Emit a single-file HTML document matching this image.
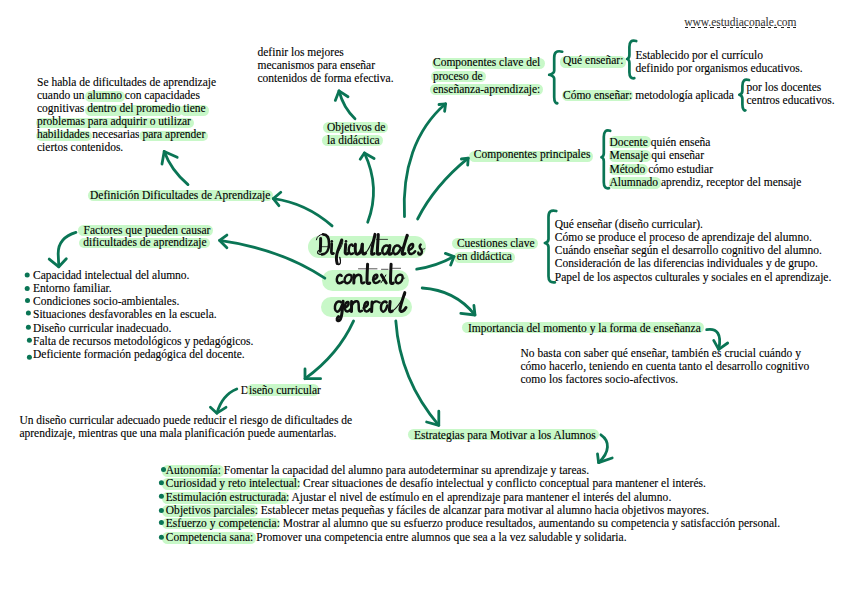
<!DOCTYPE html>
<html><head><meta charset="utf-8"><style>
html,body{margin:0;padding:0;background:#fff;}
body{width:848px;height:599px;position:relative;overflow:hidden;font-family:"Liberation Serif",serif;font-size:11.5px;color:#000;-webkit-text-stroke:0.12px #000;}
.l{position:absolute;white-space:nowrap;line-height:20px;}
.h{background:#c8f8c8;border-radius:5.5px;display:inline-block;line-height:4px;}
.thl{position:absolute;background:#c8f8c8;border-radius:11px;}
.t{position:absolute;white-space:nowrap;font-family:"Liberation Serif",serif;font-style:italic;font-weight:bold;color:#111;line-height:30px;}
svg{position:absolute;left:0;top:0;}
</style></head><body>

<div class="thl" style="left:307.5px;top:236px;width:118.5px;height:22px"></div>
<div class="thl" style="left:322px;top:269.5px;width:86.5px;height:21.0px"></div>
<div class="thl" style="left:320.5px;top:296.5px;width:91.0px;height:20.5px"></div>
<div style="position:absolute;left:684.5px;top:26.7px;width:112.5px;height:1.5px;background:repeating-linear-gradient(90deg,#222 0 3.2px,transparent 3.2px 6.37px)"></div>
<div class="l" style="left:684.2px;top:12px;color:#3a3a3a;-webkit-text-stroke:0.1px #3a3a3a;">www.estudiaconale.com</div>
<div class="l" style="left:257.5px;top:42px;">definir los mejores</div>
<div class="l" style="left:257.5px;top:55px;">mecanismos para enseñar</div>
<div class="l" style="left:257.5px;top:68px;">contenidos de forma efectiva.</div>
<div class="l" style="left:37px;top:72px;">Se habla de dificultades de aprendizaje</div>
<div class="l" style="left:37px;top:85px;">cuando un <span class="h" style="padding:2.12px 3.0px 4.99px 2.5px;margin:0 -3.0px 0 -2.5px">alumno</span> con capacidades</div>
<div class="l" style="left:37px;top:98px;">cognitivas <span class="h" style="padding:0.92px 3.0px 5.79px 2.5px;margin:0 -3.0px 0 -2.5px">dentro del promedio</span> <span class="h" style="padding:0.92px 3.0px 5.79px 3.0px;margin:0 -3.0px 0 -3.0px">tiene</span></div>
<div class="l" style="left:37px;top:111px;"><span class="h" style="padding:1.42px 3.0px 5.49px 1px;margin:0 -3.0px 0 -1px">problemas para adquirir o utilizar</span></div>
<div class="l" style="left:37px;top:124px;"><span class="h" style="padding:1.42px 3.0px 5.49px 1px;margin:0 -3.0px 0 -1px">habilidades</span> necesarias <span class="h" style="padding:1.42px 3.0px 5.49px 3.0px;margin:0 -3.0px 0 -3.0px">para aprender</span></div>
<div class="l" style="left:37px;top:137px;">ciertos contenidos.</div>
<div class="l" style="left:327px;top:117px;"><span class="h" style="padding:3.31px 3.0px 4.08px 4.5px;margin:0 -3.0px 0 -4.5px">Objetivos de</span></div>
<div class="l" style="left:327px;top:130px;"><span class="h" style="padding:3.31px 3.0px 4.08px 4.8px;margin:0 -3.0px 0 -4.8px">la didáctica</span></div>
<div class="l" style="left:433px;top:52px;"><span class="h" style="padding:2.21px 4.3px 4.99px 0.8px;margin:0 -4.3px 0 -0.8px">Componentes clave del</span></div>
<div class="l" style="left:433px;top:66px;"><span class="h" style="padding:2.52px 3.0px 4.49px 2px;margin:0 -3.0px 0 -2px">proceso de</span></div>
<div class="l" style="left:433px;top:79px;"><span class="h" style="padding:3.31px 3.0px 3.88px 3.4px;margin:0 -3.0px 0 -3.4px">enseñanza-aprendizaje:</span></div>
<div class="l" style="left:563px;top:50px;"><span class="h" style="padding:1.71px 3.0px 5.58px 3px;margin:0 -3.0px 0 -3px">Qué enseñar:</span></div>
<div class="l" style="left:563px;top:85px;"><span class="h" style="padding:2.81px 0.8px 4.38px 1.5px;margin:0 -0.8px 0 -1.5px">Cómo enseñar:</span> metodología aplicada</div>
<div class="l" style="left:635.5px;top:45px;">Establecido por el currículo</div>
<div class="l" style="left:635.5px;top:58px;">definido por organismos educativos.</div>
<div class="l" style="left:746.5px;top:77px;">por los docentes</div>
<div class="l" style="left:746.5px;top:90px;">centros educativos.</div>
<div class="l" style="left:473.8px;top:144px;"><span class="h" style="padding:1.02px 3.0px 5.79px 4.6px;margin:0 -3.0px 0 -4.6px">Componentes principales</span></div>
<div class="l" style="left:609.5px;top:132px;"><span class="h" style="padding:4.12px 3.0px 3.88px 1px;margin:0 -3.0px 0 -1px">Docente</span> quién enseña</div>
<div class="l" style="left:609.5px;top:145px;"><span class="h" style="padding:3.12px 3.0px 4.88px 1px;margin:0 -3.0px 0 -1px">Mensaje</span> qui enseñar</div>
<div class="l" style="left:609.5px;top:159px;"><span class="h" style="padding:2.71px 3.0px 4.29px 1px;margin:0 -3.0px 0 -1px">Método</span> cómo estudiar</div>
<div class="l" style="left:609.5px;top:172px;"><span class="h" style="padding:2.52px 3.0px 4.88px 1px;margin:0 -3.0px 0 -1px">Alumnado</span> aprendiz, receptor del mensaje</div>
<div class="l" style="left:90px;top:185px;"><span class="h" style="padding:2.92px 3.0px 3.58px 2px;margin:0 -3.0px 0 -2px">Definición Dificultades de Aprendizaje</span></div>
<div class="l" style="left:83.6px;top:220px;"><span class="h" style="padding:2.92px 3.0px 4.18px 5.2px;margin:0 -3.0px 0 -5.2px">Factores que pueden causar</span></div>
<div class="l" style="left:83.3px;top:232px;"><span class="h" style="padding:2.21px 3.0px 4.29px 4.6px;margin:0 -3.0px 0 -4.6px">dificultades de aprendizaje</span></div>
<div class="l" style="left:33px;top:265px;">Capacidad intelectual del alumno.</div>
<div class="l" style="left:33px;top:278px;">Entorno familiar.</div>
<div class="l" style="left:33px;top:291px;">Condiciones socio-ambientales.</div>
<div class="l" style="left:33px;top:304px;">Situaciones desfavorables en la escuela.</div>
<div class="l" style="left:33px;top:318px;">Diseño curricular inadecuado.</div>
<div class="l" style="left:33px;top:331px;">Falta de recursos metodológicos y pedagógicos.</div>
<div class="l" style="left:33px;top:344px;">Deficiente formación pedagógica del docente.</div>
<div class="l" style="left:456.9px;top:233px;"><span class="h" style="padding:3.21px 3.0px 3.88px 4.5px;margin:0 -3.0px 0 -4.5px">Cuestiones clave</span></div>
<div class="l" style="left:456.7px;top:246px;"><span class="h" style="padding:1.62px 3.0px 4.58px 3px;margin:0 -3.0px 0 -3px">en didáctica</span></div>
<div class="l" style="left:554.8px;top:214px;">Qué enseñar (diseño curricular).</div>
<div class="l" style="left:554.8px;top:227px;">Cómo se produce el proceso de aprendizaje del alumno.</div>
<div class="l" style="left:554.8px;top:240px;">Cuándo enseñar según el desarrollo cognitivo del alumno.</div>
<div class="l" style="left:554.8px;top:253px;">Consideración de las diferencias individuales y de grupo.</div>
<div class="l" style="left:554.8px;top:267px;">Papel de los aspectos culturales y sociales en el aprendizaje.</div>
<div class="l" style="left:468px;top:318px;"><span class="h" style="padding:4.02px 3.0px 3.19px 6.3px;margin:0 -3.0px 0 -6.3px">Importancia del momento y la forma de enseñanza</span></div>
<div class="l" style="left:520.4px;top:343px;letter-spacing:0.04px;">No basta con saber qué enseñar, también es crucial cuándo y</div>
<div class="l" style="left:520.4px;top:356px;letter-spacing:0.04px;">cómo hacerlo, teniendo en cuenta tanto el desarrollo cognitivo</div>
<div class="l" style="left:520.4px;top:369px;letter-spacing:0.04px;">como los factores socio-afectivos.</div>
<div class="l" style="left:240.7px;top:380px;">D<span class="h" style="padding:4.02px 1.8px 3.58px 2.5px;margin:0 -1.8px 0 -2.5px">iseño curricula</span>r</div>
<div class="l" style="left:19.4px;top:410px;">Un diseño curricular adecuado puede reducir el riesgo de dificultades de</div>
<div class="l" style="left:19.4px;top:423px;">aprendizaje, mientras que una mala planificación puede aumentarlas.</div>
<div class="l" style="left:414px;top:425px;"><span class="h" style="padding:4.02px 3.0px 3.08px 5.6px;margin:0 -3.0px 0 -5.6px">Estrategias para Motivar a los Alumnos</span></div>
<div class="l" style="left:165.8px;top:460px;letter-spacing:0.02px;"><span class="h" style="padding:2.52px 3.0px 4.68px 3.6px;margin:0 -3.0px 0 -3.6px">Autonomía:</span> Fomentar la capacidad del alumno para autodeterminar su aprendizaje y tareas.</div>
<div class="l" style="left:165.8px;top:473px;letter-spacing:0.02px;"><span class="h" style="padding:3.21px 3.0px 4.68px 3.6px;margin:0 -3.0px 0 -3.6px">Curiosidad y reto intelectual</span>: Crear situaciones de desafío intelectual y conflicto conceptual para mantener el interés.</div>
<div class="l" style="left:165.8px;top:487px;letter-spacing:0.02px;"><span class="h" style="padding:3.21px 3.0px 4.68px 3.6px;margin:0 -3.0px 0 -3.6px">Estimulación estructurada</span>: Ajustar el nivel de estímulo en el aprendizaje para mantener el interés del alumno.</div>
<div class="l" style="left:165.8px;top:500px;letter-spacing:0.02px;"><span class="h" style="padding:3.21px 3.0px 4.68px 3.6px;margin:0 -3.0px 0 -3.6px">Objetivos parciales</span>: Establecer metas pequeñas y fáciles de alcanzar para motivar al alumno hacia objetivos mayores.</div>
<div class="l" style="left:165.8px;top:513px;letter-spacing:0.02px;"><span class="h" style="padding:3.21px 3.0px 3.99px 3.6px;margin:0 -3.0px 0 -3.6px">Esfuerzo y competencia</span>: Mostrar al alumno que su esfuerzo produce resultados, aumentando su competencia y satisfacción personal.</div>
<div class="l" style="left:165.8px;top:527px;letter-spacing:0.02px;"><span class="h" style="padding:3.21px 3.0px 4.68px 3.6px;margin:0 -3.0px 0 -3.6px">Competencia sana:</span> Promover una competencia entre alumnos que sea a la vez saludable y solidaria.</div>
<svg width="848" height="599" viewBox="0 0 848 599" fill="none" stroke="#111" stroke-linecap="round" stroke-linejoin="round">
<path d="M320.6,238.6 C320.7,243 320.5,247 320.3,251.2" stroke-width="3.0"/>
<path d="M316.4,239.8 C316.8,236.5 319.5,234.4 323,234.4" stroke-width="1.0"/>
<path d="M323,234.4 C327.3,234.5 329.2,238.5 329.1,244 C329,249.5 326.7,254.2 322,254.4" stroke-width="2.6"/>
<path d="M322,254.4 C319.5,254.6 317.4,253.8 317.6,252.2 C317.8,250.8 318.8,250.3 319.5,250.8" stroke-width="1.2"/>
<path d="M321.8,246.7 L327.8,246.7" stroke-width="0.8"/>
<path d="M331.7,243.7 C331.6,247 331.4,250.5 331.4,252.5 C331.5,253.8 332.5,254 333.5,253.4" stroke-width="2.7"/>
<path d="M341.7,240 C340,245 337.8,250 336.9,254 C336.3,257 336.3,261 337.2,263.5" stroke-width="3.0"/>
<path d="M337.2,263.5 C337.8,265 339.5,265 340.3,263 C340.8,261 340.3,259 339.8,257.5" stroke-width="1.4"/>
<path d="M337.5,253 C339.5,250 342,246 342.6,242.5 C343,240 342.5,239.4 341.7,240" stroke-width="1.0"/>
<path d="M345.7,244.2 C345.5,248 345.1,251.5 345.2,253 C345.5,254.3 347,254.2 348,253.3" stroke-width="3.0"/>
<path d="M352.9,245.8 C352.3,243.9 349.8,244.1 349,247.5 C348.4,250.5 348.9,253.8 350.9,254.1 C351.7,254.2 352.4,253.9 353,253.4" stroke-width="2.5"/>
<path d="M355.4,244.3 C355.2,248 354.9,252 355.9,253.6 C357,254.8 359.3,254 360.5,251.5 C361.5,249.5 362.1,247 362.3,244.3" stroke-width="3.0"/>
<path d="M362.3,244.3 C362.3,248 362.2,251.5 362.7,253.2 C363.2,254.4 364.5,254.2 365.6,253.2" stroke-width="3.0"/>
<path d="M375,234.4 C373.5,240.5 372,248 371.5,253 C371.3,254.5 372.8,254.6 374.2,253.6" stroke-width="3.0"/>
<path d="M365.4,253 C368,251 370,246 371.5,243 C373.5,239 376.3,236 375.7,234.6 C375.4,233.9 375.1,234 375,234.4" stroke-width="1.1"/>
<path d="M378.3,234.6 C377.9,241 377.4,248 377.3,253 C377.3,254.5 378.8,254.6 380.2,253.5" stroke-width="3.0"/>
<path d="M376.5,239.4 L387.5,239.4" stroke-width="0.8"/>
<path d="M388.8,246.5 C387.5,245 384.5,245 383,248 C381.8,250.5 382.2,253.8 384.2,254.1 C386.2,254.4 388,251.5 389.2,248" stroke-width="2.6"/>
<path d="M389.9,245.5 C389.6,248.5 389,251.5 388.8,253.2 C388.8,254.5 390.2,254.6 391.5,253.6" stroke-width="3.0"/>
<path d="M399.5,246.5 C398.2,245 395.2,245 393.8,248 C392.6,250.5 393,253.8 395,254.1 C397,254.4 399.5,251.5 401,248" stroke-width="2.6"/>
<path d="M407.1,235.4 C405.5,241 403,248.5 402.2,252.5 C401.8,254.6 403.3,254.8 405,253.6" stroke-width="3.0"/>
<path d="M402.8,247 C405,242 408.6,237 408.2,235 C408,234 407.6,234.2 407.3,234.6" stroke-width="0.8"/>
<path d="M408.3,250.3 C411.2,249.8 413.6,247.2 413.1,244.9 C412.6,243.1 409.5,244.2 408.6,247.8 C407.9,251 409.1,254.3 411.2,254.1 C412.8,253.9 414.2,252.7 415.2,251.2" stroke-width="2.5"/>
<path d="M420.6,244.6 C419.3,245.8 419.4,247.6 420.8,249 C422.3,250.6 422.3,253.2 420.6,254.3 C419.3,255 418,254 418.4,252.6" stroke-width="2.5"/>
<path d="M421.5,248.8 C422.5,249.6 423.8,249.3 424.8,248.6" stroke-width="0.8"/>
<path d="M341.6,275.8 C340.8,274.4 338.3,274.4 337.2,277.3 C336.3,279.9 336.8,282.9 339.2,283.2 C340.5,283.4 341.8,282.7 342.8,281.8" stroke-width="2.5"/>
<path d="M349.2,274.8 C347.0,274.4 344.8,276.8 344.6,279.5 C344.4,282.1 345.8,283.4 347.6,283.2 C350.0,282.8 352.0,279.5 351.6,276.8 C351.3,275.1 350.2,274.6 349.2,274.8" stroke-width="2.4"/>
<path d="M351.4,276.8 C352.5,278.1 353.5,277.7 354.0,276.8" stroke-width="0.8"/>
<path d="M354.0,275.1 L353.8,283.1" stroke-width="3.0"/>
<path d="M354.0,278.6 C355.5,275.9 357.5,274.6 359.5,274.9 C361.0,275.2 361.2,276.8 361.2,278.6 C361.2,280.3 361.1,282.1 361.6,282.8 C362.2,283.4 363.2,283.2 364.2,282.5" stroke-width="2.5"/>
<path d="M367.6,264.2 C367.3,270 367,277 367,282.2 C367.1,283.8 368.5,284 369.8,283" stroke-width="3.0"/>
<path d="M358.5,268.8 L377,268.8" stroke-width="0.7"/>
<path d="M373.0,279.9 C375.5,279.5 378.0,277.3 377.3,275.5 C376.7,274.0 374.3,274.9 373.4,277.7 C372.7,280.3 373.8,283.2 375.8,283.1 C377.2,282.9 378.5,282.1 379.5,281.0" stroke-width="2.5"/>
<path d="M381.4,274.9 C383.0,277.3 384.5,280.3 386.2,283.0" stroke-width="3.0"/>
<path d="M385.9,275.0 C384.5,277.7 382.8,280.3 381.0,282.8" stroke-width="1.0"/>
<path d="M381.5,269.3 L388,269.3" stroke-width="0.7"/>
<path d="M391.1,264.2 C390.8,270 390.5,277 390.5,282.2 C390.6,283.8 392,284 393.3,283" stroke-width="3.0"/>
<path d="M392.5,268.3 L400.6,268.3" stroke-width="0.7"/>
<path d="M400.2,274.8 C398.0,274.4 395.8,276.8 395.6,279.5 C395.4,282.1 396.8,283.4 398.6,283.2 C401.0,282.8 403.0,279.5 402.6,276.8 C402.3,275.1 401.2,274.6 400.2,274.8" stroke-width="2.4"/>
<path d="M402.5,277.3 C403.2,278.5 404.0,278.5 404.8,278.1" stroke-width="0.8"/>
<path d="M341,302.3 C339.8,300.8 336.8,301 335.4,304.5 C334.4,307.2 334.8,311 336.8,311.6 C338.8,312 340.8,308.8 342,305" stroke-width="2.5"/>
<path d="M343.1,301.3 C342.8,306 342.3,312 341.2,317 C340.5,320 339,321.2 337.8,320.6 C336.5,320 337,318 338.5,316.5" stroke-width="3.0"/>
<path d="M344.3,308 C346.8,307.5 349,305 348.6,302.8 C348.1,301.2 345.8,302 345,305.3 C344.3,308.5 345.3,311.8 347.2,311.6 C348.5,311.4 349.8,310.4 350.8,309" stroke-width="2.5"/>
<path d="M351.6,301.6 L351.5,311.6" stroke-width="3.0"/>
<path d="M351.6,305.5 C353,302.5 355,301 357,301.3 C358.6,301.6 358.7,303.5 358.7,305.5 C358.7,307.6 358.7,310 359.2,311 C359.8,311.9 361,311.5 362,310.8" stroke-width="2.5"/>
<path d="M363.6,308.0 C366.1,307.5 368.3,305.0 367.9,302.8 C367.4,301.2 365.1,302.0 364.3,305.3 C363.6,308.5 364.6,311.8 366.5,311.6 C367.8,311.4 369.1,310.4 370.1,309.0" stroke-width="2.5"/>
<path d="M372.1,302.0 C371.9,305.5 371.7,309.0 371.6,311.6" stroke-width="3.0"/>
<path d="M372.0,304.5 C373.3,302.0 375.3,301.0 377.3,301.6 C378.3,301.9 379.1,302.6 379.8,302.6" stroke-width="2.1"/>
<path d="M386.6,302.4 C385.4,301.0 382.8,301.4 381.4,304.5 C380.5,307.2 380.8,311.0 382.7,311.6 C384.6,312.2 386.4,309.0 387.3,305.5" stroke-width="2.5"/>
<path d="M390.1,301.6 C389.8,305.0 389.4,308.5 389.5,310.6 C389.7,312.0 391.0,312.0 392.3,311.0" stroke-width="3.0"/>
<path d="M404.8,292.6 C403,298 400.6,305 399.9,309.5 C399.7,311.6 401.5,312 403,311 C404.3,310.2 405.2,309 406,307.5" stroke-width="3.0"/>
<path d="M392.3,311 C395,309.5 398,306 400.5,302 C403,298 406,294.5 405.6,293.2 C405.3,292.2 405,292.3 404.8,292.6" stroke-width="1.1"/>
<circle cx="331.8" cy="241.2" r="1.3" fill="#111" stroke="none"/>
<circle cx="346.0" cy="241.4" r="1.3" fill="#111" stroke="none"/>
</svg>
<svg width="848" height="599" viewBox="0 0 848 599" fill="none" stroke="#0a7555" stroke-width="2.8" stroke-linecap="round" stroke-linejoin="round">
<path d="M332.1,225.9 Q306,203 273.3,198.6"/>
<path d="M280.8,192.3 L273.3,198.6 L278.9,205.7"/>
<path d="M188,184.6 Q171,170 164.2,151.4"/>
<path d="M162,164 L164.2,151.4 L177.2,157.3"/>
<path d="M355,118.7 Q343.5,108 339,90.9"/>
<path d="M335.3,100.4 L339,90.9 L348,96.7"/>
<path d="M367.7,222.3 Q380.8,187.5 364.4,153"/>
<path d="M360.2,159.2 L364.4,153 L374.1,158.5"/>
<path d="M404.5,216.6 C402,170 415,130 445.6,103.8"/>
<path d="M439,104.5 L445.6,103.8 L444.6,111.3"/>
<path d="M417.6,219 Q435,185 468.2,158.2"/>
<path d="M461.4,159 L468.2,158.2 L467.7,165.2"/>
<path d="M416.7,269.2 Q436,266.5 454,256.6"/>
<path d="M445.4,253.4 L454,256.6 L450.7,265"/>
<path d="M422.2,288 Q455,290 475,315"/>
<path d="M473.9,305.3 L475,315 L460.8,313.3"/>
<path d="M706.7,329.7 C717,328 722,334 718.7,349.4"/>
<path d="M713.7,340.4 L718.7,349.4 L727.7,343"/>
<path d="M353.6,320.9 Q338,355 305,378.7"/>
<path d="M305,369 L305,378.7 L320.6,378.7"/>
<path d="M236.8,389 Q222,395 216.9,413.2"/>
<path d="M210.4,407.3 L216.9,413.2 L226,407.3"/>
<path d="M395.8,320.9 Q400,380 438.8,425.3"/>
<path d="M426.6,422 L438.8,425.3 L438.8,411.2"/>
<path d="M600.9,434.8 C610,441 610,452 598.6,462.6"/>
<path d="M597.5,453.9 L598.6,462.6 L612.2,458"/>
<path d="M324.8,278.2 Q281,249 219.6,240.4"/>
<path d="M226.9,235.1 L219.6,240.4 L226.9,247.8"/>
<path d="M75.9,232.4 C64,236 58,244 58.2,254 L58.8,266.8"/>
<path d="M49.2,259.1 L58.8,266.8 L66.3,258.7"/>
<path d="M562.2,51.7 C556.2,50.2 554.2,52.7 554.2,57.7 L554.2,70.8 C554.2,73.3 551.2,74.3 549.2,74.8 C551.2,75.3 554.2,76.3 554.2,78.8 L554.2,97.2 C554.2,102.2 556.2,103.7 557.3,103.2" stroke-width="2.7"/>
<path d="M636.2,41 C631.4,39.5 629.4,42 629.4,47 L629.4,55 C629.4,57.5 629.1,58.5 627.1,59 C629.1,59.5 629.4,60.5 629.4,63 L629.4,72.2 C629.4,77.2 631.4,78.7 634.3,78.2" stroke-width="2.7"/>
<path d="M749,80 C744.4,78.5 742.4,81 742.4,86 L742.4,90.7 C742.4,93.2 741.3,94.2 739.3,94.7 C741.3,95.2 742.4,96.2 742.4,98.7 L742.4,104.4 C742.4,109.4 744.4,110.9 745.4,110.4" stroke-width="2.7"/>
<path d="M610.2,130.8 C605.8,129.3 603.8,131.8 603.8,136.8 L603.8,153.2 C603.8,155.7 603.4,156.7 601.4,157.2 C603.4,157.7 603.8,158.7 603.8,161.2 L603.8,182.2 C603.8,187.2 605.8,188.7 609,188.2" stroke-width="2.7"/>
<path d="M556.3,211 C550.5,209.5 548.5,212 548.5,217 L548.5,239 C548.5,241.5 546.9,242.5 544.9,243 C546.9,243.5 548.5,244.5 548.5,247 L548.5,276.3 C548.5,281.3 550.5,282.8 554.9,282.3" stroke-width="2.7"/>
<circle cx="27.2" cy="275" r="2.5" fill="#0a7555" stroke="none"/>
<circle cx="27.2" cy="288.4" r="2.5" fill="#0a7555" stroke="none"/>
<circle cx="27.5" cy="300.4" r="2.5" fill="#0a7555" stroke="none"/>
<circle cx="28.4" cy="313.1" r="2.5" fill="#0a7555" stroke="none"/>
<circle cx="28.4" cy="327.2" r="2.5" fill="#0a7555" stroke="none"/>
<circle cx="29.4" cy="340.2" r="2.5" fill="#0a7555" stroke="none"/>
<circle cx="29.4" cy="357.3" r="2.5" fill="#0a7555" stroke="none"/>
<circle cx="163.5" cy="469.6" r="2.5" fill="#0a7555" stroke="none"/>
<circle cx="161.4" cy="482.7" r="2.5" fill="#0a7555" stroke="none"/>
<circle cx="161.4" cy="496.2" r="2.5" fill="#0a7555" stroke="none"/>
<circle cx="161.4" cy="510.4" r="2.5" fill="#0a7555" stroke="none"/>
<circle cx="161.4" cy="522.4" r="2.5" fill="#0a7555" stroke="none"/>
<circle cx="161.4" cy="537.3" r="2.5" fill="#0a7555" stroke="none"/>
</svg>
</body></html>
